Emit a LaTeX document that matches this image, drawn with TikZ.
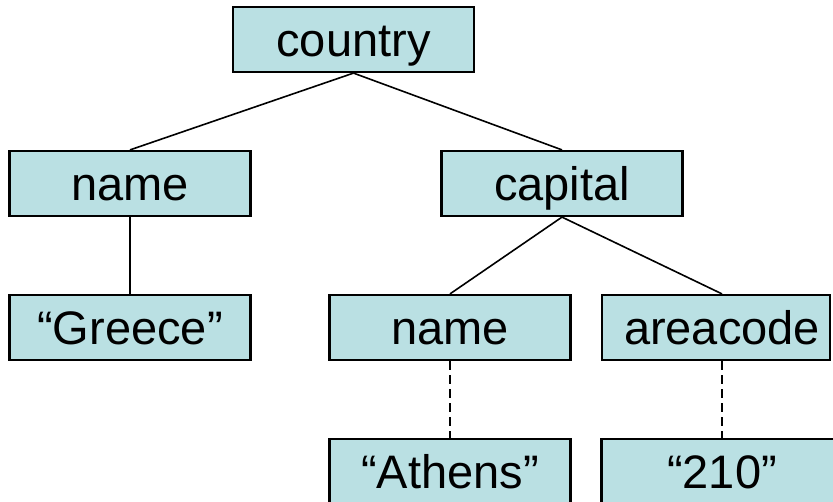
\documentclass[tikz,border=0pt]{standalone}
\usepackage{fontspec}
\setmainfont{Liberation Sans}
\definecolor{boxfill}{RGB}{186,224,227}
\begin{document}
\begin{tikzpicture}[x=1pt,y=-1pt,
  elem/.style={draw=black, line width=2.2pt, fill=boxfill, rectangle,
    minimum width=241pt, minimum height=65pt, inner sep=0pt,
    text height=34pt, text depth=0pt,
    font=\fontsize{47}{56}\selectfont},
  edge/.style={line width=1.6pt, black},
  valueedge/.style={edge, line width=1.8pt, dash pattern=on 9pt off 5pt}]
  \useasboundingbox (0,0) rectangle (833,502);

  % element nodes
  \node[elem] (country)  at (353.5,39.5)  {country};
  \node[elem] (name)     at (130,183.5)   {name};
  \node[elem] (capital)  at (562,183.5)   {capital};
  \node[elem] (greece)   at (130,327.5)   {“Greece”};
  \node[elem] (cname)    at (450,327.5)   {name};
  \node[elem, minimum width=228pt] (areacode) at (716,327.5) {\hspace*{12pt}areacode};
  \node[elem] (athens)   at (450,471.5)   {“Athens”};
  \node[elem] (code)     at (722,471.5)   {“210”};

  % tree edges
  \draw[edge] (country.south) -- (name.north);
  \draw[edge] (country.south) -- (capital.north);
  \draw[edge] (name.south) -- (greece.north);
  \draw[edge] (capital.south) -- (cname.north);
  \draw[edge] (capital.south) -- (areacode.north -| code.north);

  % value edges
  \draw[valueedge] (cname.south) -- (athens.north);
  \draw[valueedge] (areacode.south -| code.north) -- (code.north);
\end{tikzpicture}
\end{document}
